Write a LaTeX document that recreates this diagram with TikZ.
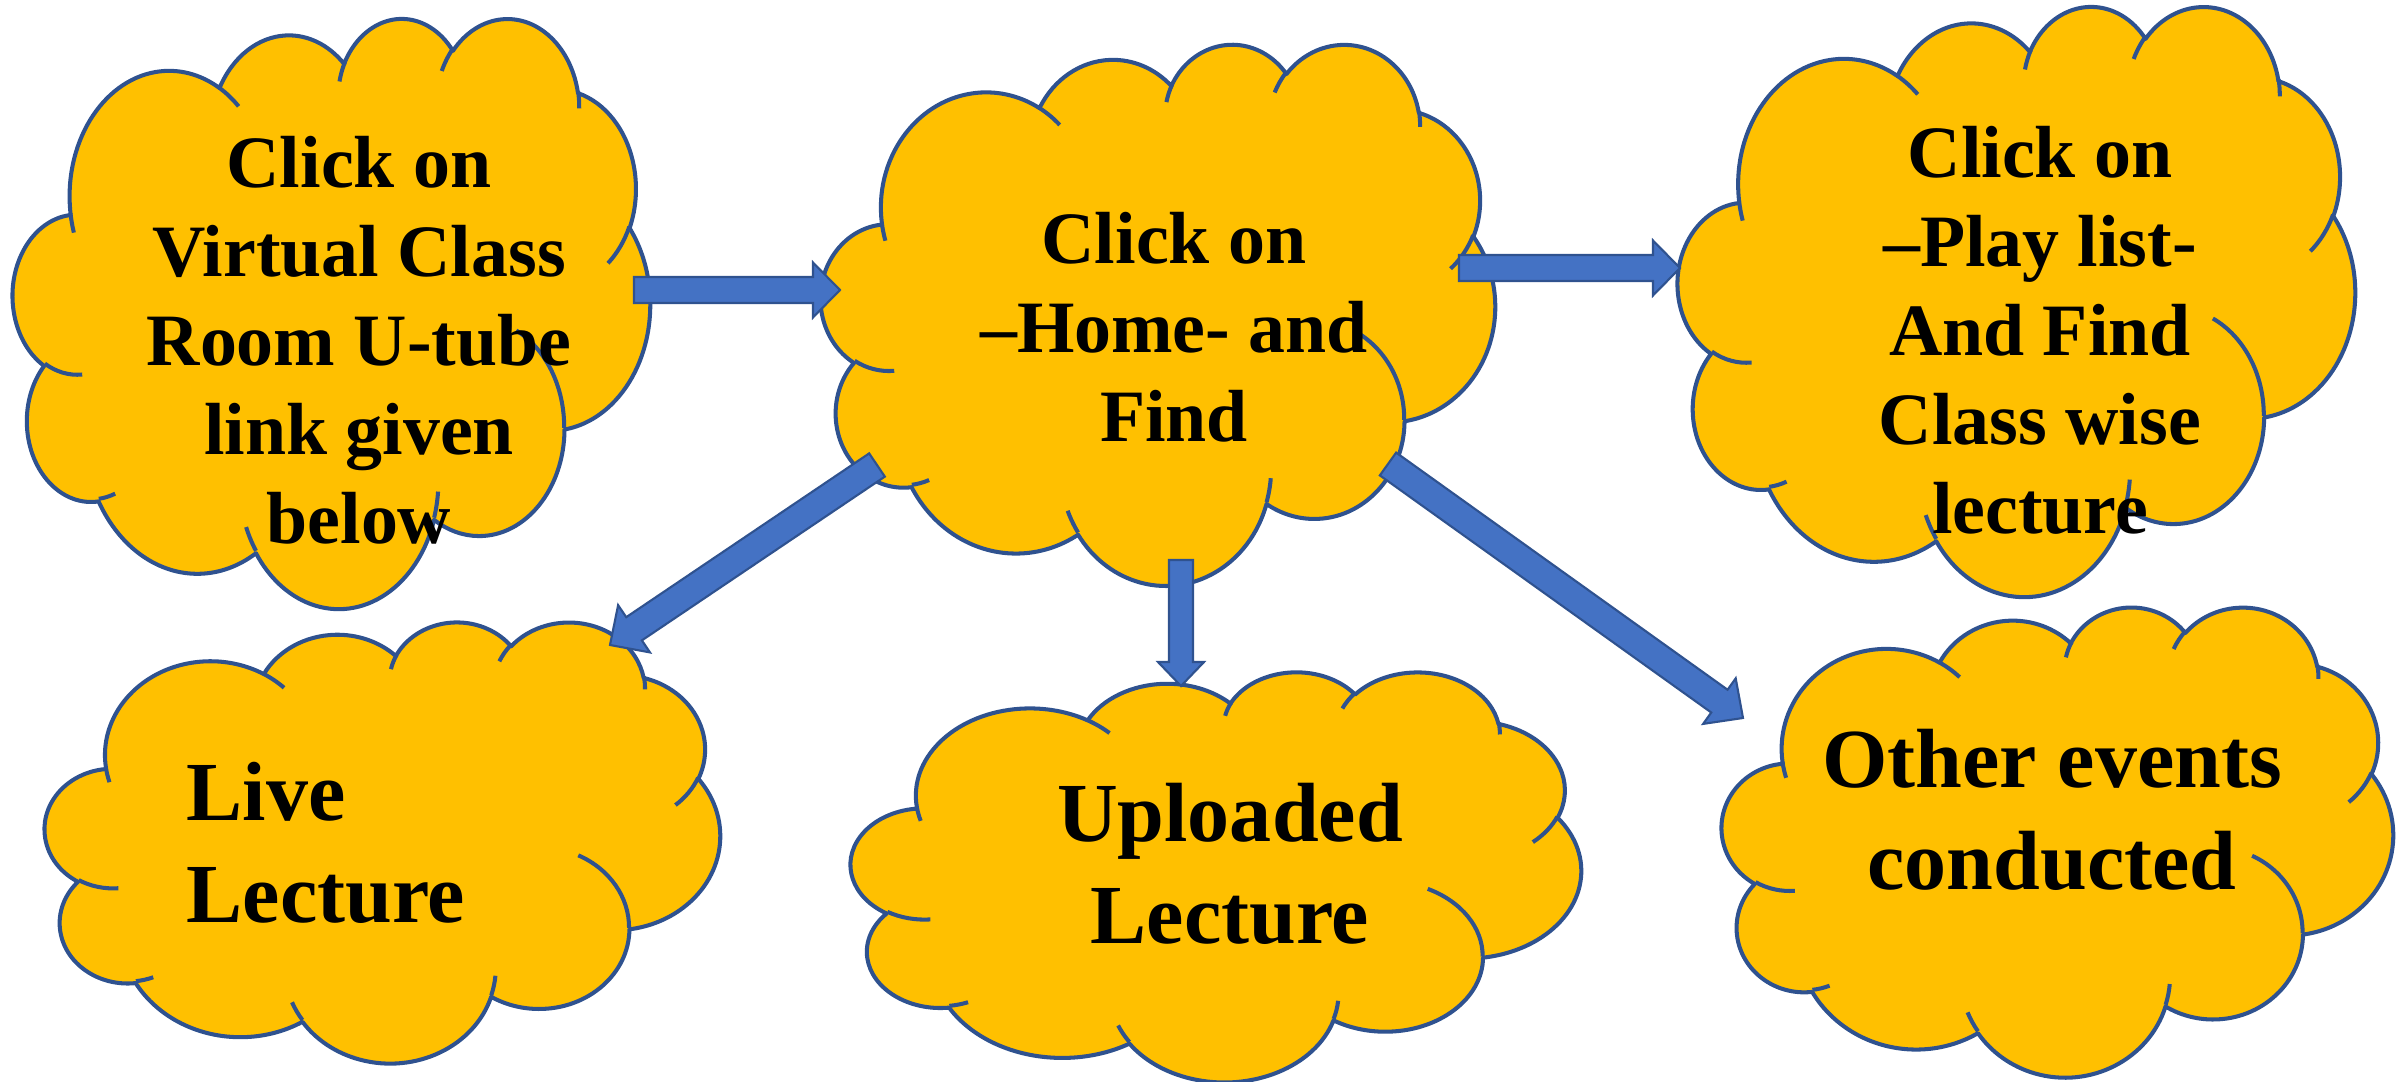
\documentclass[tikz,border=0pt]{standalone}
\usepackage{fontspec}
\setmainfont{Liberation Serif}
\usetikzlibrary{calc}
\definecolor{cloudfill}{HTML}{FFC000}
\definecolor{cloudline}{HTML}{2F528F}
\definecolor{arrowfill}{HTML}{4472C4}
\definecolor{arrowline}{HTML}{2F528F}
\tikzset{
  oa/.style n args={4}{insert path={arc[x radius=#1, y radius=#2,
     start angle={atan2(#1*sin(#3),#2*cos(#3))},
     delta angle={mod(atan2(#1*sin(#3+#4),#2*cos(#3+#4))-atan2(#1*sin(#3),#2*cos(#3))+720,360)}]}},
  cloudbody/.style={fill=cloudfill, draw=cloudline, line width=1.15pt, line join=round},
  cloudinner/.style={draw=cloudline, line width=1.15pt},
  barrow/.style={fill=arrowfill, draw=arrowline, line width=0.6pt, line join=miter},
  toptext/.style={inner sep=0pt, anchor=base, font=\fontsize{21}{25.3}\selectfont\bfseries},
  bottext/.style={inner sep=0pt, anchor=base, font=\fontsize{23.9}{29.2}\selectfont\bfseries},
}
\newcommand\pptcloud[4]{%
  \pgfmathsetmacro\cloudsx{#3/432}%
  \pgfmathsetmacro\cloudsy{#4/432}%
  \begin{scope}[shift={(#1,#2)}, xscale=\cloudsx, yscale=\cloudsy]
    \path[cloudbody] (39.00,143.70)
      [oa={67.53}{91.90}{-190.487}{123.781}]
      [oa={53.33}{72.67}{-144.102}{89.945}]
      [oa={43.65}{59.45}{-145.808}{99.723}]
      [oa={48.57}{65.95}{-130.986}{117.242}]
      [oa={53.33}{72.73}{-78.709}{109.027}]
      [oa={67.75}{92.20}{-46.267}{130.269}]
      [oa={57.85}{78.67}{0.625}{114.033}]
      [oa={67.52}{92.15}{22.452}{115.173}]
      [oa={77.20}{105.43}{66.243}{75.711}]
      [oa={43.60}{59.18}{-274.942}{146.736}]
      [oa={43.45}{59.45}{-246.829}{152.519}]
      -- cycle;
    \path[cloudinner]
      (46.93,261.77) [oa={43.45}{59.45}{86.742}{26.430}]
      (69.28,348.99) [oa={43.60}{59.18}{73.610}{11.447}]
      (164.78,390.90) [oa={67.52}{92.15}{137.624}{14.081}]
      (288.27,347.51) [oa={67.52}{92.15}{6.453}{15.998}]
      (341.29,229.54) [oa={57.85}{78.67}{-70.292}{70.917}]
      (417.98,153.54) [oa={53.33}{72.73}{30.318}{27.752}]
      (383.24,54.26) [oa={48.57}{65.95}{-13.744}{14.859}]
      (290.78,39.52) [oa={48.57}{65.95}{-149.181}{18.195}]
      (221.41,47.20) [oa={43.65}{59.45}{-163.494}{17.686}]
      (140.00,51.92) [oa={67.53}{91.90}{-66.707}{12.319}]
      (41.27,157.89) [oa={67.53}{91.90}{157.654}{11.858}];
  \end{scope}}
\newcommand\blockarrow[5]{%
  \coordinate (#1#2h) at ($(#2)!#5!(#1)$);
  \draw[barrow] ($(#1)!#3!90:(#2)$) -- ($(#1#2h)!#3!90:(#2)$) -- ($(#1#2h)!#4!90:(#2)$)
    -- (#2) -- ($(#1#2h)!#4!-90:(#2)$) -- ($(#1#2h)!#3!-90:(#2)$) -- ($(#1)!#3!-90:(#2)$) -- cycle;}
\begin{document}
\begin{tikzpicture}[x=0.01cm, y=-0.01cm]
\useasboundingbox (0,0) rectangle (2402,1082);
% clouds
\pptcloud{13}{17}{637}{590}
\pptcloud{821}{43}{674}{541}
\pptcloud{1678}{5}{677}{590}
\pptcloud{45}{621}{675}{441}
\pptcloud{851}{671}{730}{410}
\pptcloud{1722}{606}{671}{470}
% arrow end points
\coordinate (a1s) at (634,290);  \coordinate (a1t) at (840,290);
\coordinate (a2s) at (1459,268); \coordinate (a2t) at (1680,268);
\coordinate (a3s) at (1181,560); \coordinate (a3t) at (1181,686);
\coordinate (a4s) at (877,465);  \coordinate (a4t) at (610,645);
\coordinate (a5s) at (1388,464); \coordinate (a5t) at (1743,718);
\blockarrow{a1s}{a1t}{0.13cm}{0.275cm}{0.27cm}
\blockarrow{a2s}{a2t}{0.13cm}{0.275cm}{0.27cm}
\blockarrow{a3s}{a3t}{0.12cm}{0.23cm}{0.24cm}
\blockarrow{a4s}{a4t}{0.14cm}{0.285cm}{0.29cm}
\blockarrow{a5s}{a5t}{0.14cm}{0.28cm}{0.29cm}
% texts
\node[toptext] (t1) at (359,188) {\begin{tabular}[t]{@{}c@{}}Click on\\Virtual Class\\Room U-tube\\link given\\below\end{tabular}};
\node[toptext] (t2) at (1174,264) {\begin{tabular}[t]{@{}c@{}}Click on\\–Home- and\\Find\end{tabular}};
\node[toptext] (t3) at (2040,178) {\begin{tabular}[t]{@{}c@{}}Click on\\–Play list-\\And Find\\Class wise\\lecture\end{tabular}};
\node[bottext, anchor=base west] (t4) at (186,820) {\begin{tabular}[t]{@{}l@{}}Live\\Lecture\end{tabular}};
\node[bottext] (t5) at (1230,841) {\begin{tabular}[t]{@{}c@{}}Uploaded\\Lecture\end{tabular}};
\node[bottext] (t6) at (2052,787) {\begin{tabular}[t]{@{}c@{}}Other events\\conducted\end{tabular}};
\end{tikzpicture}
\end{document}
